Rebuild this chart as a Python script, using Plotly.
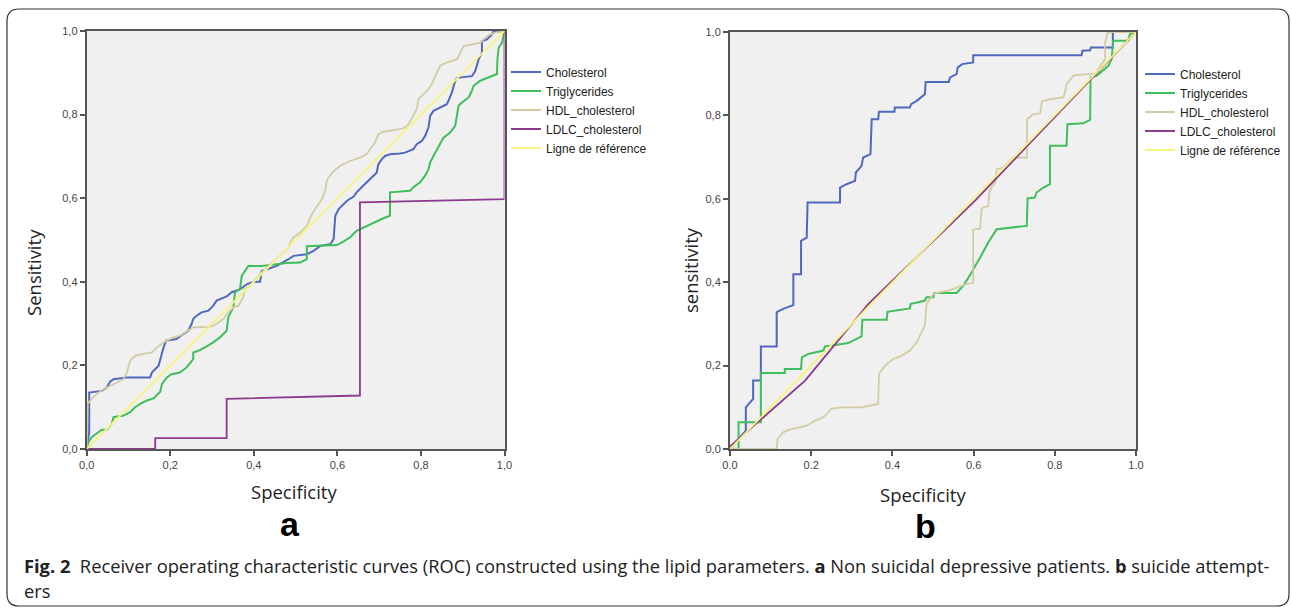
import plotly.graph_objects as go

W, H = 1292, 609

# ---------------- Panel a : Non suicidal depressive patients ----------------
a_chol_x = [0, 0.006, 0.006, 0.036, 0.048, 0.056, 0.064, 0.096, 0.152, 0.156, 0.172, 0.176, 0.184, 0.190,
            0.215, 0.231, 0.243, 0.251, 0.255, 0.263, 0.275, 0.291, 0.303, 0.311, 0.335, 0.347, 0.367,
            0.383, 0.399, 0.415, 0.419, 0.431, 0.455, 0.483, 0.495, 0.527, 0.543, 0.559, 0.583, 0.591,
            0.595, 0.603, 0.615, 0.623, 0.639, 0.646, 0.658, 0.670, 0.678, 0.694, 0.698, 0.706, 0.714,
            0.726, 0.750, 0.762, 0.782, 0.790, 0.802, 0.810, 0.818, 0.822, 0.830, 0.846, 0.862, 0.866,
            0.874, 0.882, 0.886, 0.922, 0.930, 0.938, 0.946, 0.946, 0.958, 0.970, 0.974, 1.0]
a_chol_y = [0, 0.040, 0.135, 0.139, 0.147, 0.161, 0.167, 0.171, 0.171, 0.183, 0.199, 0.215, 0.243, 0.259,
            0.263, 0.275, 0.283, 0.299, 0.311, 0.319, 0.327, 0.331, 0.343, 0.355, 0.365, 0.375, 0.382,
            0.394, 0.400, 0.400, 0.426, 0.430, 0.438, 0.454, 0.462, 0.466, 0.474, 0.486, 0.490, 0.502,
            0.558, 0.574, 0.586, 0.594, 0.604, 0.614, 0.626, 0.638, 0.645, 0.661, 0.681, 0.693, 0.701,
            0.705, 0.707, 0.709, 0.717, 0.729, 0.737, 0.749, 0.769, 0.797, 0.809, 0.817, 0.825, 0.833,
            0.853, 0.881, 0.888, 0.892, 0.904, 0.932, 0.948, 0.976, 0.980, 0.992, 1.0, 1.0]

a_trig_x = [0, 0.004, 0.012, 0.024, 0.036, 0.048, 0.060, 0.064, 0.088, 0.104, 0.116, 0.128, 0.144, 0.160,
            0.176, 0.180, 0.192, 0.203, 0.223, 0.239, 0.255, 0.255, 0.267, 0.283, 0.303, 0.319, 0.335,
            0.339, 0.351, 0.355, 0.367, 0.371, 0.387, 0.419, 0.447, 0.479, 0.511, 0.527, 0.527, 0.567,
            0.599, 0.614, 0.630, 0.646, 0.662, 0.674, 0.690, 0.710, 0.726, 0.726, 0.774, 0.782, 0.798,
            0.810, 0.818, 0.822, 0.830, 0.838, 0.846, 0.854, 0.870, 0.882, 0.886, 0.890, 0.898, 0.914,
            0.922, 0.926, 0.942, 0.974, 0.982, 0.983, 0.986, 0.994, 0.998, 1.0]
a_trig_y = [0, 0.016, 0.028, 0.036, 0.046, 0.046, 0.060, 0.076, 0.080, 0.088, 0.100, 0.108, 0.116, 0.121,
            0.137, 0.155, 0.171, 0.179, 0.183, 0.195, 0.215, 0.231, 0.235, 0.243, 0.255, 0.267, 0.283,
            0.315, 0.339, 0.375, 0.383, 0.414, 0.438, 0.438, 0.442, 0.445, 0.446, 0.454, 0.485, 0.486,
            0.488, 0.496, 0.506, 0.522, 0.530, 0.536, 0.542, 0.552, 0.558, 0.614, 0.618, 0.626, 0.638,
            0.654, 0.669, 0.685, 0.701, 0.717, 0.729, 0.745, 0.757, 0.773, 0.797, 0.821, 0.829, 0.841,
            0.857, 0.869, 0.881, 0.893, 0.897, 0.932, 0.960, 0.972, 0.992, 1.0]

a_hdl_x = [0, 0.002, 0.012, 0.024, 0.040, 0.056, 0.072, 0.088, 0.096, 0.104, 0.116, 0.132, 0.156, 0.168,
           0.184, 0.207, 0.223, 0.239, 0.255, 0.295, 0.311, 0.327, 0.339, 0.351, 0.363, 0.375, 0.379,
           0.391, 0.407, 0.423, 0.443, 0.463, 0.483, 0.487, 0.495, 0.511, 0.527, 0.535, 0.547, 0.563,
           0.571, 0.575, 0.591, 0.606, 0.630, 0.654, 0.670, 0.678, 0.690, 0.698, 0.710, 0.750, 0.762,
           0.770, 0.782, 0.790, 0.794, 0.806, 0.818, 0.826, 0.838, 0.846, 0.862, 0.886, 0.894, 0.902,
           0.922, 0.942, 0.950, 0.962, 0.978, 1.0]
a_hdl_y = [0, 0.108, 0.120, 0.132, 0.143, 0.151, 0.159, 0.167, 0.183, 0.211, 0.223, 0.227, 0.231, 0.243,
           0.255, 0.267, 0.271, 0.281, 0.291, 0.292, 0.299, 0.311, 0.327, 0.339, 0.343, 0.363, 0.383,
           0.391, 0.410, 0.426, 0.445, 0.462, 0.482, 0.494, 0.506, 0.518, 0.534, 0.554, 0.575, 0.598,
           0.618, 0.644, 0.665, 0.677, 0.689, 0.697, 0.705, 0.717, 0.733, 0.753, 0.759, 0.765, 0.769,
           0.777, 0.797, 0.813, 0.837, 0.849, 0.861, 0.873, 0.901, 0.917, 0.925, 0.932, 0.948, 0.964,
           0.968, 0.972, 0.980, 0.990, 0.996, 1.0]

a_ldl_x = [0, 0.164, 0.164, 0.335, 0.335, 0.654, 0.654, 1.0, 1.0]
a_ldl_y = [0, 0, 0.026, 0.026, 0.120, 0.128, 0.590, 0.598, 1.0]

ref_x = [0, 1]
ref_y = [0, 1]

# ---------------- Panel b : suicide attempters ----------------
b_chol_x = [0, 0.021, 0.039, 0.039, 0.049, 0.057, 0.057, 0.076, 0.076, 0.115, 0.115, 0.131, 0.156, 0.156,
            0.175, 0.175, 0.189, 0.191, 0.271, 0.271, 0.287, 0.308, 0.310, 0.324, 0.328, 0.346, 0.349,
            0.365, 0.367, 0.405, 0.406, 0.443, 0.446, 0.460, 0.480, 0.482, 0.539, 0.542, 0.558, 0.561,
            0.572, 0.599, 0.599, 0.866, 0.868, 0.887, 0.889, 0.943, 0.943, 1.0]
b_chol_y = [0, 0.024, 0.044, 0.100, 0.112, 0.120, 0.164, 0.164, 0.246, 0.246, 0.328, 0.336, 0.345, 0.419,
            0.419, 0.499, 0.507, 0.591, 0.591, 0.627, 0.635, 0.643, 0.663, 0.679, 0.699, 0.707, 0.791,
            0.791, 0.809, 0.809, 0.819, 0.819, 0.827, 0.835, 0.851, 0.880, 0.880, 0.891, 0.899, 0.915,
            0.923, 0.927, 0.944, 0.944, 0.955, 0.956, 0.963, 0.963, 1.0, 1.0]

b_trig_x = [0, 0.021, 0.021, 0.076, 0.076, 0.135, 0.135, 0.175, 0.177, 0.193, 0.230, 0.234, 0.255, 0.291,
            0.324, 0.326, 0.386, 0.388, 0.443, 0.445, 0.464, 0.480, 0.484, 0.501, 0.503, 0.558, 0.575,
            0.595, 0.616, 0.636, 0.657, 0.731, 0.733, 0.751, 0.755, 0.772, 0.788, 0.788, 0.829, 0.831,
            0.870, 0.887, 0.888, 0.903, 0.932, 0.940, 0.944, 0.981, 0.985, 1.0]
b_trig_y = [0, 0, 0.064, 0.064, 0.182, 0.182, 0.192, 0.192, 0.220, 0.228, 0.236, 0.246, 0.249, 0.254,
            0.270, 0.310, 0.310, 0.329, 0.337, 0.348, 0.352, 0.356, 0.364, 0.364, 0.374, 0.374, 0.392,
            0.423, 0.459, 0.495, 0.527, 0.535, 0.601, 0.603, 0.615, 0.627, 0.635, 0.727, 0.727, 0.779,
            0.781, 0.789, 0.891, 0.895, 0.919, 0.935, 0.979, 0.979, 0.995, 1.0]

b_hdl_x = [0, 0.115, 0.117, 0.131, 0.144, 0.168, 0.189, 0.209, 0.226, 0.234, 0.242, 0.250, 0.275, 0.324,
           0.365, 0.367, 0.382, 0.402, 0.423, 0.443, 0.460, 0.472, 0.480, 0.484, 0.501, 0.517, 0.538,
           0.562, 0.583, 0.599, 0.599, 0.616, 0.620, 0.636, 0.639, 0.653, 0.657, 0.673, 0.698, 0.731,
           0.732, 0.747, 0.764, 0.768, 0.788, 0.821, 0.825, 0.829, 0.846, 0.883, 0.899, 0.907, 0.924,
           0.924, 0.930, 0.940, 1.0]
b_hdl_y = [0, 0, 0.024, 0.040, 0.046, 0.052, 0.056, 0.068, 0.074, 0.080, 0.088, 0.097, 0.100, 0.100,
           0.108, 0.180, 0.200, 0.216, 0.224, 0.236, 0.256, 0.280, 0.296, 0.348, 0.372, 0.376, 0.380,
           0.388, 0.396, 0.398, 0.526, 0.529, 0.577, 0.583, 0.619, 0.639, 0.671, 0.675, 0.699, 0.699,
           0.791, 0.803, 0.805, 0.833, 0.839, 0.843, 0.855, 0.875, 0.896, 0.899, 0.900, 0.911, 0.935,
           0.975, 0.997, 1.0, 1.0]

b_ldl_x = [0, 0.185, 0.341, 0.603, 1.0]
b_ldl_y = [0.006, 0.164, 0.348, 0.595, 1.0]

series_names = ["Cholesterol", "Triglycerides", "HDL_cholesterol", "LDLC_cholesterol", "Ligne de référence"]
series_colors = ["#5068BE", "#3FBE5C", "#D3CCA3", "#8B3A8E", "#F6F47E"]
series_widths = [2, 2, 1.8, 1.8, 1.8]

tick_vals = [0, 0.2, 0.4, 0.6, 0.8, 1.0]
tick_comma = ["0,0", "0,2", "0,4", "0,6", "0,8", "1,0"]
tick_dot = ["0.0", "0.2", "0.4", "0.6", "0.8", "1.0"]

panel_a = [(a_chol_x, a_chol_y), (a_trig_x, a_trig_y), (a_hdl_x, a_hdl_y), (a_ldl_x, a_ldl_y), (ref_x, ref_y)]
panel_b = [(b_chol_x, b_chol_y), (b_trig_x, b_trig_y), (b_hdl_x, b_hdl_y), (b_ldl_x, b_ldl_y), (ref_x, ref_y)]

fig = go.Figure()
for (xs, ys), name, col, lw in zip(panel_a, series_names, series_colors, series_widths):
    fig.add_trace(go.Scatter(x=xs, y=ys, mode="lines", name=name, line=dict(color=col, width=lw),
                             xaxis="x", yaxis="y", legend="legend"))
for (xs, ys), name, col, lw in zip(panel_b, series_names, series_colors, series_widths):
    fig.add_trace(go.Scatter(x=xs, y=ys, mode="lines", name=name, line=dict(color=col, width=lw),
                             xaxis="x2", yaxis="y2", legend="legend2"))


def px_x(p):
    return p / W


def px_y(p):
    return 1 - p / H


tickfont = dict(family="Liberation Sans, Arial", size=11, color="#444")
axis_common = dict(range=[0, 1], showgrid=False, zeroline=False, showline=True, linecolor="#555",
                   linewidth=2, mirror=True, ticks="outside", ticklen=5, tickwidth=1.5, tickcolor="#555",
                   tickfont=tickfont, tickvals=tick_vals, automargin=False, fixedrange=True)

legend_font = dict(family="Liberation Sans, Arial", size=12, color="#222")
fig.update_layout(
    width=W, height=H,
    margin=dict(l=0, r=0, t=0, b=0),
    paper_bgcolor="white",
    plot_bgcolor="#F0F0F0",
    showlegend=True,
    xaxis=dict(axis_common, domain=[px_x(86.7), px_x(504.5)], anchor="y", ticktext=tick_comma),
    yaxis=dict(axis_common, domain=[px_y(449), px_y(31)], anchor="x", ticktext=tick_comma),
    xaxis2=dict(axis_common, domain=[px_x(730), px_x(1136)], anchor="y2", ticktext=tick_dot),
    yaxis2=dict(axis_common, domain=[px_y(449), px_y(32)], anchor="x2", ticktext=tick_comma),
    legend=dict(x=px_x(506), y=px_y(110), xanchor="left", yanchor="middle", bgcolor="rgba(0,0,0,0)",
                font=legend_font, itemwidth=30, tracegroupgap=0),
    legend2=dict(x=px_x(1140), y=px_y(112), xanchor="left", yanchor="middle", bgcolor="rgba(0,0,0,0)",
                 font=legend_font, itemwidth=30, tracegroupgap=0),
)

title_font = dict(family="Open Sans", size=18.5, color="#222")
caption_font = dict(family="Open Sans", size=18.3, color="#222")
annotations = [
    dict(text="Sensitivity", x=px_x(33), y=px_y(273), textangle=-90, font=title_font),
    dict(text="Specificity", x=px_x(294), y=px_y(491), font=title_font),
    dict(text="sensitivity", x=px_x(690), y=px_y(270), textangle=-90, font=title_font),
    dict(text="Specificity", x=px_x(923), y=px_y(494), font=title_font),
    dict(text="<b>a</b>", x=px_x(290), y=px_y(524), font=dict(family="Liberation Sans, Arial", size=34, color="#000")),
    dict(text="<b>b</b>", x=px_x(925), y=px_y(526), font=dict(family="Liberation Sans, Arial", size=34, color="#000")),
    dict(text="<b>Fig. 2</b>  Receiver operating characteristic curves (ROC) constructed using the lipid parameters. "
              "<b>a</b> Non suicidal depressive patients. <b>b</b> suicide attempt-",
         x=px_x(22), y=px_y(565), xanchor="left", font=caption_font),
    dict(text="ers", x=px_x(22), y=px_y(590), xanchor="left", font=caption_font),
]
for a in annotations:
    a.setdefault("xanchor", "center")
    a.update(xref="paper", yref="paper", yanchor="middle", showarrow=False)
fig.update_layout(annotations=annotations)

# rounded frame around the figure
x0, y0, x1, y1, r = 7, 9, 1289, 606, 12
path = (f"M {px_x(x0 + r)},{px_y(y0)} L {px_x(x1 - r)},{px_y(y0)} "
        f"Q {px_x(x1)},{px_y(y0)} {px_x(x1)},{px_y(y0 + r)} L {px_x(x1)},{px_y(y1 - r)} "
        f"Q {px_x(x1)},{px_y(y1)} {px_x(x1 - r)},{px_y(y1)} L {px_x(x0 + r)},{px_y(y1)} "
        f"Q {px_x(x0)},{px_y(y1)} {px_x(x0)},{px_y(y1 - r)} L {px_x(x0)},{px_y(y0 + r)} "
        f"Q {px_x(x0)},{px_y(y0)} {px_x(x0 + r)},{px_y(y0)} Z")
fig.add_shape(type="path", path=path, xref="paper", yref="paper", line=dict(color="#333", width=1.2),
              fillcolor="rgba(0,0,0,0)", layer="below")

fig.write_html("out.html", config={"displayModeBar": False},
               post_script="document.body.style.margin='0';document.body.style.padding='0';"
                           "document.body.style.overflow='hidden';")
